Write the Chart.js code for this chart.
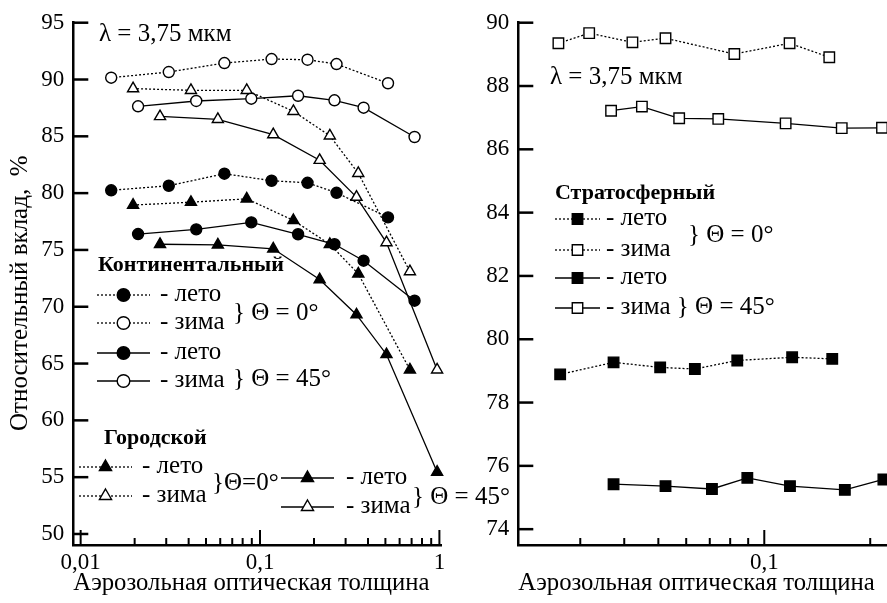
<!DOCTYPE html>
<html lang="ru">
<head>
<meta charset="UTF-8">
<title>Относительный вклад</title>
<script src="https://cdn.jsdelivr.net/npm/chart.js@4.4.1/dist/chart.umd.min.js"></script>
<style>
  html, body { margin: 0; padding: 0; background: #fff; overflow: hidden; }
  #wrap { position: relative; width: 887px; height: 603px; overflow: hidden; }
  canvas { position: absolute; top: 0; }
  #left { left: 0; }
  #right { left: 440px; }
</style>
</head>
<body>
<div id="wrap">
  <canvas id="right" width="447" height="603"></canvas>
  <canvas id="left" width="530" height="603"></canvas>
</div>
<script>
// --- continental aerosol ---
const contX0 = [0.0148, 0.031, 0.0633, 0.116, 0.184, 0.267, 0.517];
const contWinter0 = [90.16, 90.66, 91.45, 91.8, 91.74, 91.36, 89.67];
const contSummer0 = [80.25, 80.65, 81.71, 81.09, 80.91, 80.03, 77.87];
const contX45 = [0.0209, 0.0441, 0.0894, 0.163, 0.26, 0.378, 0.727];
const contWinter45 = [87.64, 88.11, 88.31, 88.57, 88.17, 87.52, 84.94];
const contSummer45 = [76.4, 76.81, 77.43, 76.38, 75.5, 74.05, 70.53];

// --- urban aerosol ---
const urbX0 = [0.0196, 0.0412, 0.0843, 0.1535, 0.245, 0.353, 0.685];
const urbWinter0 = [89.2, 89.05, 89.05, 87.2, 85.05, 81.75, 73.1];
const urbSummer0 = [78.95, 79.2, 79.5, 77.6, 75.5, 72.9, 64.45];
const urbX45 = [0.0277, 0.0582, 0.1185, 0.215, 0.345, 0.507, 0.971];
const urbWinter45 = [86.75, 86.5, 85.15, 82.9, 79.65, 75.65, 64.45];
const urbSummer45 = [75.5, 75.45, 75.1, 72.4, 69.3, 65.8, 55.45];

// --- stratospheric aerosol ---
const stratXw0 = [0.026, 0.0318, 0.0422, 0.0524, 0.0822, 0.118, 0.153];
const stratWinter0 = [89.35, 89.67, 89.38, 89.51, 89.01, 89.35, 88.91];
const stratXs0 = [0.0263, 0.0373, 0.0506, 0.0635, 0.0838, 0.120, 0.156];
const stratSummer0 = [78.89, 79.27, 79.11, 79.06, 79.33, 79.43, 79.38];
const stratXw45 = [0.0367, 0.0449, 0.0573, 0.074, 0.115, 0.166, 0.216];
const stratWinter45 = [87.22, 87.35, 86.98, 86.96, 86.82, 86.67, 86.68];
const stratXs45 = [0.0373, 0.0524, 0.071, 0.0895, 0.1183, 0.1694, 0.218];
const stratSummer45 = [75.42, 75.36, 75.27, 75.62, 75.36, 75.24, 75.57];

// axis ticks
const leftXTicks = [0.01, 0.02, 0.03, 0.04, 0.05, 0.06, 0.07, 0.08, 0.09, 0.1,
                    0.2, 0.3, 0.4, 0.5, 0.6, 0.7, 0.8, 0.9, 1];
const leftYTicks = [50, 55, 60, 65, 70, 75, 80, 85, 90, 95];
const rightXTicks = [0.03, 0.04, 0.05, 0.06, 0.07, 0.08, 0.09, 0.1, 0.2];
const rightYTicks = [74, 76, 78, 80, 82, 84, 86, 88, 90];

const SERIF = '"Liberation Serif", "DejaVu Serif", serif';
const xTitle = 'Аэрозольная оптическая толщина  ';

const pairs = (xs, ys) => xs.map((x, i) => ({ x: x, y: ys[i] }));
const isDecade = v => Math.abs(Math.log10(v) - Math.round(Math.log10(v))) < 1e-6;
const fmt = v => String(v).replace('.', ',');

function series(xs, ys, style, filled, dotted, radius) {
  return {
    data: pairs(xs, ys),
    borderColor: '#000',
    borderWidth: 1.3,
    borderDash: dotted ? [2, 2] : [],
    pointStyle: style,
    pointRadius: radius,
    pointBorderWidth: 1.4,
    pointBorderColor: '#000',
    pointBackgroundColor: filled ? '#000' : '#fff',
    tension: 0,
    clip: false
  };
}

// tick marks pointing into the plot area
const inwardTicks = {
  id: 'inwardTicks',
  afterDatasetsDraw(chart) {
    const { ctx, chartArea: a, scales: { x, y } } = chart;
    ctx.save();
    ctx.strokeStyle = '#000';
    ctx.setLineDash([]);
    x.ticks.forEach(t => {
      const px = x.getPixelForValue(t.value);
      ctx.lineWidth = 2;
      ctx.beginPath();
      ctx.moveTo(px, a.bottom);
      ctx.lineTo(px, a.bottom - (isDecade(t.value) ? 15 : 7));
      ctx.stroke();
    });
    y.ticks.forEach(t => {
      const py = y.getPixelForValue(t.value);
      ctx.lineWidth = 2.5;
      ctx.beginPath();
      ctx.moveTo(a.left, py);
      ctx.lineTo(a.left + 15, py);
      ctx.stroke();
    });
    ctx.restore();
  }
};

// hand-placed legend: sample line with marker, captions, braces
const notesPlugin = {
  id: 'notes',
  afterDraw(chart, args, opts) {
    const ctx = chart.ctx;
    ctx.save();
    ctx.textBaseline = 'middle';
    ctx.textAlign = 'left';
    (opts.samples || []).forEach(s => {
      ctx.strokeStyle = '#000';
      ctx.lineWidth = 1.3;
      ctx.setLineDash(s.dotted ? [2, 2] : []);
      ctx.beginPath();
      ctx.moveTo(s.x1, s.y);
      ctx.lineTo(s.x2, s.y);
      ctx.stroke();
      ctx.setLineDash([]);
      ctx.fillStyle = s.filled ? '#000' : '#fff';
      ctx.lineWidth = 1.4;
      Chart.helpers.drawPoint(ctx, { pointStyle: s.style, radius: s.r, borderWidth: 1.4, rotation: 0 },
        (s.x1 + s.x2) / 2, s.y);
    });
    ctx.fillStyle = '#000';
    (opts.texts || []).forEach(t => {
      ctx.font = (t.bold ? 'bold 22px ' : '25px ') + SERIF;
      ctx.fillText(t.text, t.x, t.y);
    });
    ctx.restore();
  }
};

function axes(xMin, xMax, xTicks, xLabels, yMin, yMax, yTicks, yWidth, yTitle) {
  return {
    x: {
      type: 'logarithmic',
      min: xMin, max: xMax,
      afterBuildTicks: s => { s.ticks = xTicks.map(v => ({ value: v })); },
      afterFit: s => { s.height = 58; s.paddingLeft = 0; s.paddingRight = 0; },
      grid: { display: false, drawTicks: false },
      border: { display: true, color: '#000', width: 2.5 },
      ticks: {
        autoSkip: false, maxRotation: 0, padding: 4, color: '#000',
        font: { family: SERIF, size: 23 },
        callback: v => (xLabels.some(l => Math.abs(l - v) < 1e-9) ? fmt(v) : '')
      },
      title: {
        display: true, text: xTitle, color: '#000',
        font: { family: SERIF, size: 25 }, padding: { top: 0, bottom: 5 }
      }
    },
    y: {
      type: 'linear',
      min: yMin, max: yMax,
      afterBuildTicks: s => { s.ticks = yTicks.map(v => ({ value: v })); },
      afterFit: s => { s.width = yWidth; s.paddingTop = 0; s.paddingBottom = 0; },
      grid: { display: false, drawTicks: false },
      border: { display: true, color: '#000', width: 2.5 },
      ticks: {
        padding: 9, color: '#000',
        font: { family: SERIF, size: 23 },
        callback: v => String(v)
      },
      title: {
        display: !!yTitle, text: yTitle || '', color: '#000',
        font: { family: SERIF, size: 25 }, padding: { top: 5, bottom: 0 }
      }
    }
  };
}

const common = {
  responsive: false,
  animation: false,
  events: [],
  plugins: { legend: { display: false }, tooltip: { enabled: false } }
};

// left panel: continental and urban aerosol
new Chart(document.getElementById('left'), {
  type: 'line',
  data: {
    datasets: [
      series(contX0, contWinter0, 'circle', false, true, 5.5),
      series(contX45, contWinter45, 'circle', false, false, 5.5),
      series(contX0, contSummer0, 'circle', true, true, 5.5),
      series(contX45, contSummer45, 'circle', true, false, 5.5),
      series(urbX0, urbWinter0, 'triangle', false, true, 6.4),
      series(urbX45, urbWinter45, 'triangle', false, false, 6.4),
      series(urbX0, urbSummer0, 'triangle', true, true, 6.4),
      series(urbX45, urbSummer45, 'triangle', true, false, 6.4)
    ]
  },
  options: Object.assign({}, common, {
    layout: { autoPadding: false, padding: { left: 0, top: 22.7, right: 88.3, bottom: 0 } },
    scales: axes(0.0091, 1.03, leftXTicks, [0.01, 0.1, 1], 49.03, 95, leftYTicks, 73.3,
                 'Относительный вклад,  %   '),
    plugins: Object.assign({}, common.plugins, {
      notes: {
        samples: [
          { x1: 97, x2: 150, y: 295, dotted: true, style: 'circle', filled: true, r: 6.3 },
          { x1: 97, x2: 150, y: 323, dotted: true, style: 'circle', filled: false, r: 6.3 },
          { x1: 97, x2: 150, y: 353, dotted: false, style: 'circle', filled: true, r: 6.3 },
          { x1: 97, x2: 150, y: 381, dotted: false, style: 'circle', filled: false, r: 6.3 },
          { x1: 79, x2: 132, y: 467, dotted: true, style: 'triangle', filled: true, r: 7 },
          { x1: 79, x2: 132, y: 496, dotted: true, style: 'triangle', filled: false, r: 7 },
          { x1: 281, x2: 334, y: 478, dotted: false, style: 'triangle', filled: true, r: 7 },
          { x1: 281, x2: 334, y: 507, dotted: false, style: 'triangle', filled: false, r: 7 }
        ],
        texts: [
          { text: 'λ = 3,75 мкм', x: 99, y: 34 },
          { text: 'Континентальный', x: 98, y: 265, bold: true },
          { text: '- лето', x: 160, y: 294 },
          { text: '- зима', x: 160, y: 322 },
          { text: '- лето', x: 160, y: 352 },
          { text: '- зима', x: 160, y: 380 },
          { text: '} Θ = 0°', x: 233, y: 313 },
          { text: '} Θ = 45°', x: 233, y: 379 },
          { text: 'Городской', x: 104, y: 438, bold: true },
          { text: '- лето', x: 142, y: 466 },
          { text: '- зима', x: 142, y: 495 },
          { text: '}Θ=0°', x: 212, y: 483 },
          { text: '- лето', x: 346, y: 477 },
          { text: '- зима', x: 346, y: 506 },
          { text: '} Θ = 45°', x: 412, y: 497 }
        ]
      }
    })
  }),
  plugins: [inwardTicks, notesPlugin]
});

// right panel: stratospheric aerosol (offsets relative to the canvas at x = 440)
new Chart(document.getElementById('right'), {
  type: 'line',
  data: {
    datasets: [
      series(stratXw0, stratWinter0, 'rect', false, true, 7.4),
      series(stratXw45, stratWinter45, 'rect', false, false, 7.4),
      series(stratXs0, stratSummer0, 'rect', true, true, 7.4),
      series(stratXs45, stratSummer45, 'rect', true, false, 7.4)
    ]
  },
  options: Object.assign({}, common, {
    layout: { autoPadding: false, padding: { left: 0, top: 22.7, right: 0, bottom: 0 } },
    scales: axes(0.02, 0.2232, rightXTicks, [0.1], 73.5, 90, rightYTicks, 78.3, null),
    plugins: Object.assign({}, common.plugins, {
      notes: {
        samples: [
          { x1: 115, x2: 160, y: 219, dotted: true, style: 'rect', filled: true, r: 7.4 },
          { x1: 115, x2: 160, y: 250, dotted: true, style: 'rect', filled: false, r: 7.4 },
          { x1: 115, x2: 160, y: 278, dotted: false, style: 'rect', filled: true, r: 7.4 },
          { x1: 115, x2: 160, y: 308, dotted: false, style: 'rect', filled: false, r: 7.4 }
        ],
        texts: [
          { text: 'λ = 3,75 мкм', x: 110, y: 77 },
          { text: 'Стратосферный', x: 115, y: 193, bold: true },
          { text: '- лето', x: 166, y: 218 },
          { text: '- зима', x: 166, y: 249 },
          { text: '} Θ = 0°', x: 248, y: 235 },
          { text: '- лето', x: 166, y: 277 },
          { text: '- зима } Θ = 45°', x: 166, y: 307 }
        ]
      }
    })
  }),
  plugins: [inwardTicks, notesPlugin]
});
</script>
</body>
</html>
